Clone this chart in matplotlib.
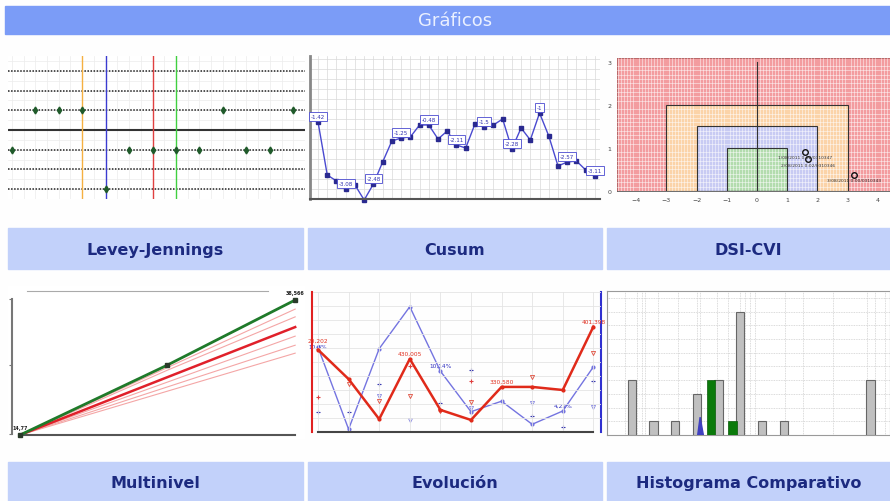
import numpy as np
import matplotlib.pyplot as plt
from matplotlib.patches import Rectangle

W, H = 890, 502
nan = np.nan

# ---- data ----
panel_titles = ["Levey-Jennings", "Cusum", "DSI-CVI",
                "Multinivel", "Evolución", "Histograma Comparativo"]

# Levey-Jennings: results in SD units
lj_sd = [-1, 1, 1, 1, -3, -1, -1, -1, -1, 1, -1, -1, 1]
lj_rules = {3: "#f5b041", 4: "#3b3bd0", 6: "#e04040", 7: "#40d040"}

# Cusum
cusum_vals = [7.7, 2.4, 1.8, 1.0, 1.4, -0.1, 1.5, 3.7, 5.8, 6.1, 6.2, 7.4, 7.4,
              6.0, 6.8, 5.4, 5.1, 7.5, 7.2, 7.4, 8.0, 5.0, 7.1, 5.9, 8.6, 6.3,
              3.3, 3.7, 3.8, 2.9, 2.3]
cusum_labels = {0: "-1.42", 3: "-3.08", 6: "-2.48", 9: "-1.25", 12: "-0.48",
                15: "-2.11", 18: "-1.5", 21: "-2.28", 24: "-1", 27: "-2.57",
                30: "-3.11"}

# DSI-CVI
dsi_x = [1.59, 1.70, 3.21]
dsi_y = [0.91, 0.74, 0.38]
dsi_labels = ["1/08/2011 0:02/0310347", "2/08/2011 0:02/0310346",
              "3/08/2011 0:00/0310343"]
dsi_zones = [(3, 2, "#fbd3a8"), (2, 1.5, "#c8cbf3"), (1, 1, "#b3dcae")]

# Multinivel
mn_days = [0, 15, 28]
mn_green = [14.77, 27.1, 38.57]
mn_red = [14.77, 24.97, 33.8]
mn_levels = [[14.77, 26.67, 36.97], [14.77, 26.2, 35.6], [14.77, 24.1, 32.2],
             [14.77, 23.25, 30.6], [14.77, 22.5, 29.2]]

# Evolucion
ev_red = [294, 189, 46, 261, 79, 43, 161, 161, 150, 376]
ev_blue = [12.1, 0.4, 11.9, 17.9, 8.7, 2.9, 4.4, 1.1, 3.0, 9.3]
ev_red_lbl = {0: "20,202", 3: "430,005", 6: "330,580", 9: "401,398"}
ev_blue_lbl = {0: "10,8%", 4: "10,14%", 8: "4,22%"}
ev_red_plus = [124, nan, nan, 237, nan, 181, nan, nan, nan, nan]
ev_red_tri = [nan, 171, 112, 130, 76, 106, nan, 195, nan, 281]
ev_blue_plus = [2.8, 2.8, 6.9, nan, 4.1, 8.9, nan, 2.3, 0.7, 7.3]
ev_blue_tri = [nan, nan, 5.2, 1.7, nan, 3.5, nan, 4.1, nan, 3.6]

# Histograma comparativo
hg_pos = [0, 1, 2, 3, 4, 5, 6, 7, 11]
hg_gray = [4, 1, 1, 3, 4, 9, 1, 1, 4]
hg_green_pos = [3.65, 4.65]
hg_green = [4, 1]
hg_curve_x = [3.04, 3.15, 3.3]
hg_curve_y = [0, 1.3, 0]
hg_vgrid = [-0.31, 0.23, 0.46, 0.61, 1.23, 2.15, 3.0, 3.15, 3.92, 4.45, 4.99,
            5.22, 5.45, 5.68, 7.06, 7.91, 9.29, 10.83, 11.21, 11.67]

fig = plt.figure(figsize=(W / 100, H / 100), dpi=100, facecolor="#fefefe")


def add_ax(x0, y0, x1, y1):
    return fig.add_axes([x0 / W, 1 - y1 / H, (x1 - x0) / W, (y1 - y0) / H])


# background: header and label bars
bg = add_ax(0, 0, W, H)
bg.set_xlim(0, W)
bg.set_ylim(H, 0)
bg.axis("off")
bg.add_patch(Rectangle((5, 7), 885, 28, color="#7b9cf7"))
bg.text(455, 21, "Gráficos", color="#eaf0ff", fontsize=13,
        ha="center", va="center")
bars = [(8, 303), (308, 602), (607, 890)]
for row, (y0, y1) in enumerate([(229, 270), (463, 502)]):
    for col, (x0, x1) in enumerate(bars):
        bg.add_patch(Rectangle((x0, y0), x1 - x0, y1 - y0, color="#c2d1fa"))
        bg.text((x0 + x1) / 2, (y0 + y1) / 2 + 1, panel_titles[row * 3 + col],
                color="#1c2a80", fontsize=11.5, fontweight="bold",
                ha="center", va="center")

# ---- Levey-Jennings ----
ax = add_ax(8, 57, 305, 200)
n = len(lj_sd)
ax.set_xlim(-0.165, 12.12)
ax.set_ylim(-3.4, 3.75)
ax.set_xticks(np.arange(0, n, 0.5))
ax.set_yticks(np.arange(-3.5, 4, 0.5))
ax.grid(color="#ececec", lw=0.5)
for k in [-3, -2, -1, 1, 2, 3]:
    ax.axhline(k, color="#222222", lw=1.1, ls=(0, (1, 1)))
ax.axhline(0, color="#333333", lw=1.5)
for i, c in lj_rules.items():
    ax.axvline(i, color=c, lw=1)
ax.plot(range(n), lj_sd, "d", color="#1f5a2a", ms=3.5, zorder=5)
ax.tick_params(length=0, labelbottom=False, labelleft=False)
for s in ax.spines.values():
    s.set_visible(False)

# ---- Cusum ----
ax = add_ax(310, 57, 600, 200)
m = len(cusum_vals)
ax.set_xlim(-0.87, 30.55)
ax.set_ylim(0, 14.3)
ax.set_xticks(range(m))
ax.set_yticks(range(15))
ax.grid(color="#d9d9d9", lw=0.5)
ax.plot(range(m), cusum_vals, "-s", color="#4a4ad0", lw=1, ms=2.2,
        mfc="#2a2a90", mec="#2a2a90", clip_on=False)
for i, t in cusum_labels.items():
    ax.annotate(t, (i, cusum_vals[i]), xytext=(0, 4), textcoords="offset points",
                ha="center", va="center", fontsize=4, color="#3030b0",
                bbox=dict(boxstyle="square,pad=0.3", fc="white", ec="#4a4ad0", lw=0.6))
ax.tick_params(length=0, labelbottom=False, labelleft=False)
ax.spines["top"].set_visible(False)
ax.spines["right"].set_visible(False)
ax.spines["left"].set_color("#888888")
ax.spines["left"].set_linewidth(2)
ax.spines["bottom"].set_color("#555555")
ax.spines["bottom"].set_linewidth(1.5)

# ---- DSI-CVI ----
ax = add_ax(617, 59, 890, 192)
ax.set_xlim(-4.63, 4.40)
ax.set_ylim(0, 3.09)
ax.set_facecolor("#f39c9f")
for half, top, c in dsi_zones:
    ax.add_patch(Rectangle((-half, 0), 2 * half, top, fc=c, ec="none", zorder=1))
    ax.add_patch(Rectangle((-half, 0), 2 * half, top, fill=False,
                           ec="#333333", lw=0.8, zorder=4))
ax.plot([0, 0], [0, 3], color="#333333", lw=0.8, zorder=4)
ax.set_xticks(np.arange(-4.6, 4.5, 0.1), minor=True)
ax.set_yticks(np.arange(0, 3.1, 0.1), minor=True)
ax.grid(which="minor", color="white", lw=0.4, alpha=0.85, zorder=2)
ax.set_axisbelow(False)
ax.plot(dsi_x, dsi_y, "o", mfc="none", mec="#111111", ms=4, mew=1, zorder=6)
for x, y, t in zip(dsi_x, dsi_y, dsi_labels):
    ax.annotate(t, (x, y), xytext=(0, -2.5), textcoords="offset points",
                ha="center", va="top", fontsize=3.2, color="#333333", zorder=6)
ax.set_xticks(range(-4, 5))
ax.set_yticks(range(4))
ax.tick_params(which="both", length=0, labelsize=4.5, colors="#444444", pad=4)
for s in ax.spines.values():
    s.set_color("#b06060")
    s.set_linewidth(0.6)
ax.spines["bottom"].set_color("#555555")

# ---- Multinivel ----
ax = add_ax(8, 287, 305, 440)
ax.set_xlim(-1.22, 29.0)
ax.set_ylim(14.07, 41.04)
for lv in mn_levels:
    ax.plot(mn_days, lv, color="#f4a6a6", lw=0.8)
ax.plot(mn_days, mn_red, color="#e0202a", lw=1.8)
ax.plot(mn_days, mn_green, "-s", color="#1f7a2a", lw=2, ms=3,
        mfc="#2a3a2a", mec="#2a3a2a", clip_on=False, zorder=5)
ax.axhline(40.16, xmin=0.064, xmax=0.875, color="#aaaaaa", lw=0.8)
ax.annotate("14,77", (mn_days[0], mn_green[0]), xytext=(0, 4),
            textcoords="offset points", ha="center", fontsize=3.5,
            fontweight="bold", color="#222222")
ax.annotate("38,566", (mn_days[-1], mn_green[-1]), xytext=(0, 4),
            textcoords="offset points", ha="center", fontsize=3.5,
            fontweight="bold", color="#222222")
ax.spines["top"].set_visible(False)
ax.spines["right"].set_visible(False)
ax.spines["left"].set_position(("data", -0.82))
ax.spines["left"].set_bounds(14.95, 38.75)
ax.spines["left"].set_color("#777777")
ax.spines["left"].set_linewidth(1.5)
ax.spines["bottom"].set_position(("data", 14.77))
ax.spines["bottom"].set_bounds(0, 28)
ax.spines["bottom"].set_color("#555555")
ax.spines["bottom"].set_linewidth(1.5)
ax.set_yticks([14.95, 27.1, 38.75])
ax.set_xticks([])
ax.tick_params(length=2, labelleft=False, colors="#777777")

# ---- Evolucion ----
ax = add_ax(312, 293, 601, 433)
k = len(ev_red)
ax.set_xlim(-0.196, 9.25)
ax.set_ylim(0, 500)
ax.set_xticks(range(k))
ax.set_yticks(range(0, 501, 50))
ax.grid(color="#e4e4e4", lw=0.6)
ax2 = ax.twinx()
ax2.set_ylim(0, 20)
ax2.plot(range(k), ev_blue, "-o", color="#7474e0", lw=1, ms=2)
ax2.plot(range(k), ev_blue_plus, "+", color="#3a3ab0", ms=3.5, mew=0.8)
ax2.plot(range(k), ev_blue_tri, "v", mfc="none", mec="#8a8ae0", ms=3, mew=0.6)
ax.plot(range(k), ev_red, "-o", color="#e02a1a", lw=1.8, ms=2, zorder=4)
ax.plot(range(k), ev_red_plus, "+", color="#e04040", ms=3.5, mew=0.8)
ax.plot(range(k), ev_red_tri, "v", mfc="none", mec="#e05040", ms=3, mew=0.6)
for i, t in ev_red_lbl.items():
    dy = 6 if i == 0 else 3
    ax.annotate(t, (i, ev_red[i]), xytext=(0, dy), textcoords="offset points",
                ha="center", fontsize=4.2, color="#e03020", zorder=6)
for i, t in ev_blue_lbl.items():
    dy = -0.5 if i == 0 else 3
    ax2.annotate(t, (i, ev_blue[i]), xytext=(0, dy), textcoords="offset points",
                 ha="center", fontsize=4.2, color="#3030c0", zorder=6)
ax.set_zorder(ax2.get_zorder() + 1)
ax.patch.set_visible(False)
for a in (ax, ax2):
    a.spines["top"].set_visible(False)
    a.tick_params(length=0, labelleft=False, labelright=False, labelbottom=False)
ax.spines["left"].set_color("#e02020")
ax.spines["left"].set_linewidth(1.5)
ax2.spines["right"].set_color("#3030d0")
ax2.spines["right"].set_linewidth(1.5)
ax2.spines["left"].set_visible(False)
ax.spines["right"].set_visible(False)
ax2.spines["bottom"].set_visible(False)
ax.spines["bottom"].set_bounds(0, 9)
ax.spines["bottom"].set_color("#444444")
ax.spines["bottom"].set_linewidth(1.5)

# ---- Histograma comparativo ----
ax = add_ax(607, 292, 890, 436)
ax.set_xlim(-1.14, 11.9)
ax.set_ylim(0, 10.5)
ax.set_yticks(range(11))
ax.set_xticks(hg_vgrid)
ax.grid(color="#cfcfcf", lw=0.6, ls=(0, (1, 1)))
ax.bar(hg_pos, hg_gray, width=0.38, color="#c0c0c0", edgecolor="#666666", lw=0.8, zorder=3)
ax.bar(hg_green_pos, hg_green, width=0.4, color="#0a7a0a", edgecolor="#0a5a0a", lw=0.5, zorder=4)
ax.fill(hg_curve_x, hg_curve_y, color="#4040c0", zorder=5)
ax.tick_params(length=0, labelleft=False, labelbottom=False)
for s in ax.spines.values():
    s.set_color("#9a9a9a")
    s.set_linewidth(0.8)

fig.savefig("out.png", dpi=100, facecolor=fig.get_facecolor())
